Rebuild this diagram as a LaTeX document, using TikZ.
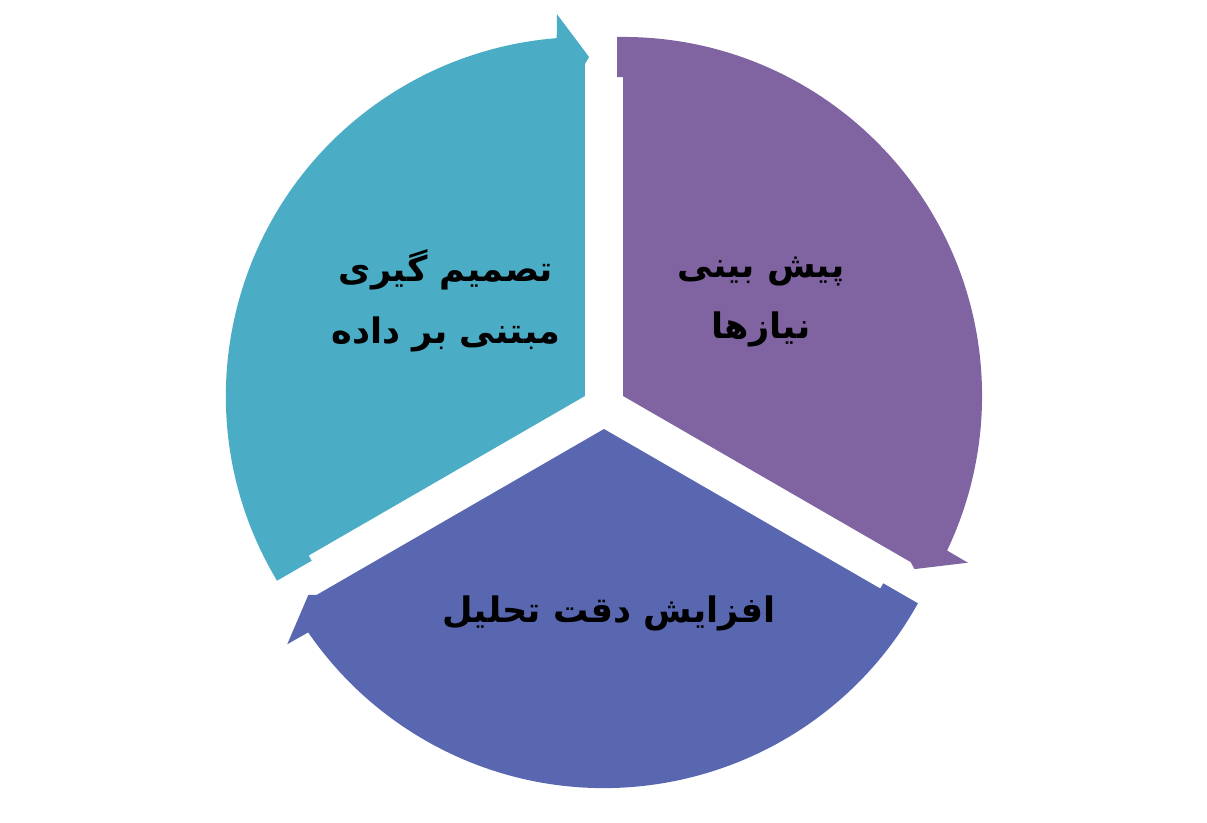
\documentclass[tikz,border=0pt]{standalone}
\usepackage{fontspec}
\newfontfamily\farsifont[Script=Arabic]{DejaVu Sans}
\TeXXeTstate=1
\definecolor{tealpart}{HTML}{4BACC6}
\definecolor{purplepart}{HTML}{8064A2}
\definecolor{bluepart}{HTML}{5967B1}
\tikzset{
  label text/.style={font=\farsifont\bfseries\fontsize{20}{35}\selectfont, align=center, text=black}
}
\begin{document}
\begin{tikzpicture}
\useasboundingbox (-12.08,-8.30) rectangle (12.06,8.14);
% purple part, top right
\begin{scope}[shift={(30:0.44)}, rotate=30]
	\fill[purplepart] (0,0) -- (60:6.38) -- ++(150:0.12) -- ++(60:0.8)
		arc[start angle=60.96, end angle=-55.5, radius=7.18]
		-- (-55.8:7.66) -- (-60.7:6.78) -- (-60:6.64) -- cycle;
\end{scope}
% blue part, bottom
\begin{scope}[shift={(270:0.44)}, rotate=270]
	\fill[bluepart] (0,0) -- (60:6.38) -- ++(150:0.12) -- ++(60:0.8)
		arc[start angle=60.96, end angle=-55.5, radius=7.18]
		-- (-55.8:7.66) -- (-60.7:6.78) -- (-60:6.64) -- cycle;
\end{scope}
% teal part, top left
\begin{scope}[shift={(150:0.44)}, rotate=150]
	\fill[tealpart] (0,0) -- (60:6.38) -- ++(150:0.12) -- ++(60:0.8)
		arc[start angle=60.96, end angle=-55.5, radius=7.18]
		-- (-55.8:7.66) -- (-60.7:6.78) -- (-60:6.64) -- cycle;
\end{scope}

\node[label text] (decision) at (-3.16,2.12) {\beginR تصمیم گیری\endR\\\beginR مبتنی بر داده\endR};
\node[label text] (predict) at (3.14,2.10) {\beginR پیش بینی\endR\\\beginR نیازها\endR};
\node[label text] (accuracy) at (0.10,-4.12) {\beginR افزایش دقت تحلیل\endR};
\end{tikzpicture}
\end{document}
